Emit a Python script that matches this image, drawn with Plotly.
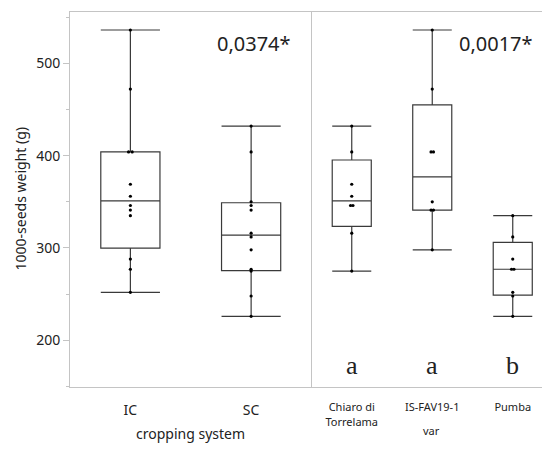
import numpy as np
import plotly.graph_objects as go

# ---------------- data ----------------
crop_categories = ["IC", "SC"]
ic_values = [252, 277, 288, 335, 341, 346, 356, 369, 404, 404, 472, 536]
sc_values = [226, 248, 275, 277, 298, 312, 316, 341, 346, 350, 404, 432]

var_categories = ["Chiaro di<br>Torrelama", "IS-FAV19-1", "Pumba"]
chiaro_values = [275, 316, 346, 346, 356, 369, 404, 432]
isfav_values = [298, 341, 341, 350, 404, 404, 472, 536]
pumba_values = [226, 248, 252, 277, 277, 288, 312, 335]

crop_pvalue = "0,0374*"
var_pvalue = "0,0017*"
var_letters = ["a", "a", "b"]

y_ticks = [200, 300, 400, 500]

# ---------------- figure ----------------
FONT = "Noto Sans"
LINE = "#3a3a3a"
AXIS = "#c4c4c4"
TXT = "#222222"

fig = go.Figure()


def add_group(values_list, xaxis, yaxis, width):
    for i, vals in enumerate(values_list):
        v = np.array(vals, dtype=float)
        q1 = np.percentile(v, 25, method="weibull")
        med = np.percentile(v, 50, method="weibull")
        q3 = np.percentile(v, 75, method="weibull")
        fig.add_trace(go.Box(
            x=[i], q1=[q1], median=[med], q3=[q3],
            lowerfence=[v.min()], upperfence=[v.max()],
            width=width, whiskerwidth=1,
            fillcolor="rgba(255,255,255,0)",
            line=dict(color=LINE, width=1.2),
            boxpoints=False, hoverinfo="skip",
            xaxis=xaxis, yaxis=yaxis, showlegend=False,
        ))
        xs, ys = [], []
        uniq, counts = np.unique(v, return_counts=True)
        for u, c in zip(uniq, counts):
            offs = (np.arange(c) - (c - 1) / 2) * 0.03
            for o in offs:
                xs.append(i + o)
                ys.append(u)
        fig.add_trace(go.Scatter(
            x=xs, y=ys, mode="markers",
            marker=dict(color="black", size=3.2),
            xaxis=xaxis, yaxis=yaxis, showlegend=False, hoverinfo="skip",
        ))


add_group([ic_values, sc_values], "x", "y", 0.49)
add_group([chiaro_values, isfav_values, pumba_values], "x2", "y2", 0.485)

W, H = 542, 452
L, R, T, B = 70, 0, 12, 65
split = (311.5 - L) / (W - L - R)

yrange = [149.5, 555.5]

fig.update_layout(
    width=W, height=H,
    margin=dict(l=L, r=R, t=T, b=B, autoexpand=False),
    plot_bgcolor="white", paper_bgcolor="white",
    font=dict(family=FONT, color=TXT),
    showlegend=False,
    xaxis=dict(
        domain=[0, split], range=[-0.5, 1.5], automargin=False,
        tickmode="array", tickvals=[0, 1], ticktext=crop_categories,
        tickfont=dict(size=14, family=FONT, color=TXT), ticks="",
        ticklabelstandoff=10,
        showline=True, linecolor=AXIS, linewidth=1, mirror=True,
        showgrid=False, zeroline=False,
    ),
    yaxis=dict(
        range=yrange, tickmode="array", tickvals=y_ticks, automargin=False,
        tickfont=dict(size=14, family=FONT, color=TXT),
        ticks="outside", ticklen=6, tickcolor=AXIS, tickwidth=1,
        minor=dict(tickvals=[150, 250, 350, 450, 550], ticks="outside", ticklen=3, tickcolor=AXIS),
        showline=True, linecolor=AXIS, linewidth=1,
        showgrid=False, zeroline=False,
    ),
    xaxis2=dict(
        domain=[split, 1], range=[-0.5, -0.5 + (W - 311.5) / 80.5], automargin=False,
        tickmode="array", tickvals=[0, 1, 2], ticktext=var_categories,
        tickfont=dict(size=11, family=FONT, color=TXT), ticks="",
        ticklabelstandoff=10,
        showline=True, linecolor=AXIS, linewidth=1, mirror=True,
        showgrid=False, zeroline=False, anchor="y2",
    ),
    yaxis2=dict(
        range=yrange, anchor="x2", matches="y", automargin=False,
        showticklabels=False, ticks="",
        showline=True, linecolor=AXIS, linewidth=1,
        showgrid=False, zeroline=False,
    ),
)

# axis titles
fig.add_annotation(x=0.5, y=0, xref="x domain", yref="paper", yshift=-46.5,
                   xanchor="center", yanchor="middle",
                   text="cropping system", showarrow=False,
                   font=dict(size=14, family=FONT, color=TXT))
fig.add_annotation(x=(431.7 - 311.5) / 80.5 - 0.5, y=0, xref="x2", yref="paper", yshift=-43,
                   xanchor="center", yanchor="middle",
                   text="var", showarrow=False,
                   font=dict(size=11, family=FONT, color=TXT))
fig.add_annotation(x=0, y=0.5, xref="paper", yref="y domain", xshift=-50,
                   xanchor="center", yanchor="middle",
                   text="1000-seeds weight (g)", textangle=-90, showarrow=False,
                   font=dict(size=14, family=FONT, color=TXT))

# p-values and letters
fig.add_annotation(x=1.02, y=521, xref="x", yref="y", text=crop_pvalue,
                   showarrow=False, font=dict(size=20, family=FONT, color=TXT))
fig.add_annotation(x=1.786, y=521, xref="x2", yref="y2", text=var_pvalue,
                   showarrow=False, font=dict(size=20, family=FONT, color=TXT))
for i, letter in enumerate(var_letters):
    fig.add_annotation(x=i, y=173, xref="x2", yref="y2", text=letter, showarrow=False,
                       font=dict(size=26, family="Liberation Serif", color=TXT))

fig.write_html("out.html", config={"displayModeBar": False},
               post_script="document.body.style.margin='0';")
